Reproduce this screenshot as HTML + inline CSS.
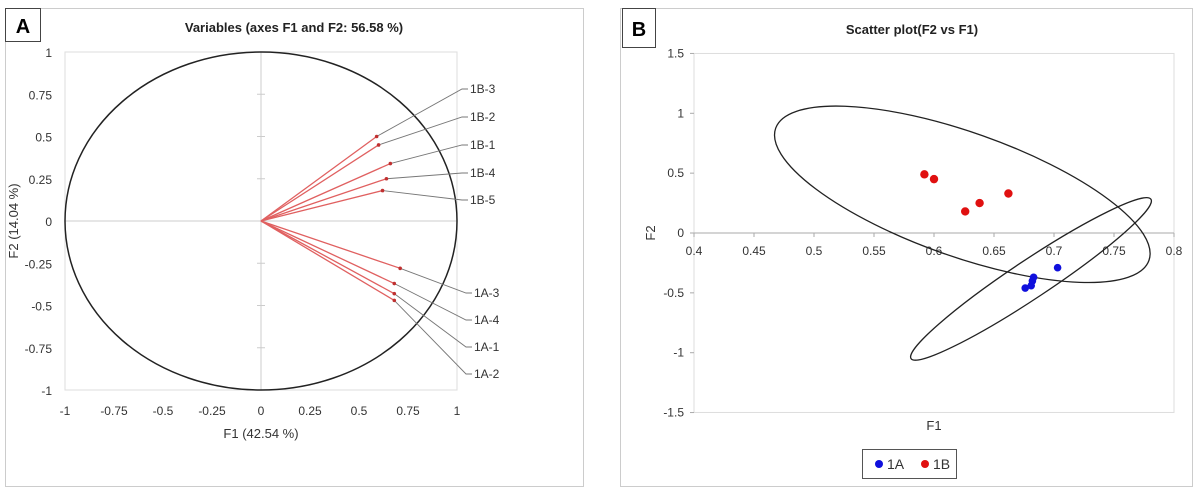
<!DOCTYPE html>
<html><head><meta charset="utf-8"><style>
body{margin:0;background:#fff;width:1201px;height:490px;overflow:hidden}
svg{font-family:"Liberation Sans",Arial,sans-serif}
</style></head><body>
<svg id="s" width="1201" height="490" xmlns="http://www.w3.org/2000/svg"></svg>
<script>
// Panel A data
const varNames=["1B-3","1B-2","1B-1","1B-4","1B-5","1A-3","1A-4","1A-1","1A-2"];
const varF1=[0.59,0.60,0.66,0.64,0.62,0.71,0.68,0.68,0.68];
const varF2=[0.50,0.45,0.34,0.25,0.18,-0.28,-0.37,-0.43,-0.47];
const ticksA=[-1,-0.75,-0.5,-0.25,0,0.25,0.5,0.75,1];
// Panel B data
const f1A=[0.703,0.683,0.682,0.681,0.676];
const f2A=[-0.29,-0.37,-0.40,-0.44,-0.46];
const f1B=[0.592,0.600,0.626,0.638,0.662];
const f2B=[0.49,0.45,0.18,0.25,0.33];
const xTicksB=[0.4,0.45,0.5,0.55,0.6,0.65,0.7,0.75,0.8];
const yTicksB=[1.5,1,0.5,0,-0.5,-1,-1.5];

const S=document.getElementById('s');const NS="http://www.w3.org/2000/svg";
function el(t,a,txt){const e=document.createElementNS(NS,t);for(const k in a)e.setAttribute(k,a[k]);if(txt!=null)e.textContent=txt;S.appendChild(e);return e;}
function fmt(v){return String(v);}

// ---- Panel A ----
let e;
e=el('rect',{x:5.5,y:8.5,width:578,height:478,fill:'none',stroke:'#ccc'});

e=el('rect',{x:5.5,y:8.5,width:35,height:33,fill:'#fff',stroke:'#444'});

e=el('text',{x:23,y:33,'font-size':20,'font-weight':'bold','text-anchor':'middle'},'A');

e=el('text',{x:294,y:32,'font-size':13,'font-weight':'bold','text-anchor':'middle',fill:'#222'},'Variables (axes F1 and F2: 56.58 %)');

const ax=v=>261+v*196, ay=v=>221-v*169;
e=el('rect',{x:ax(-1),y:ay(1),width:392,height:338,fill:'none',stroke:'#ddd'});

e=el('line',{x1:ax(-1),y1:ay(0),x2:ax(1),y2:ay(0),stroke:'#ccc'});

e=el('line',{x1:ax(0),y1:ay(1),x2:ax(0),y2:ay(-1),stroke:'#ccc'});

ticksA.forEach(t=>{
  e=el('text',{x:52,y:ay(t)+5,'font-size':12,'text-anchor':'end',fill:'#333'},fmt(t));
  
  e=el('text',{x:ax(t),y:415,'font-size':12,'text-anchor':'middle',fill:'#333'},fmt(t));
  
  e=el('line',{x1:ax(0)-4,y1:ay(t),x2:ax(0)+4,y2:ay(t),stroke:'#ccc'});
  
});
e=el('ellipse',{cx:ax(0),cy:ay(0),rx:196,ry:169,fill:'none',stroke:'#222','stroke-width':1.5});

e=el('text',{x:261,y:438,'font-size':13,'text-anchor':'middle',fill:'#333'},'F1 (42.54 %)');

e=el('text',{x:0,y:0,'font-size':13,'text-anchor':'middle',fill:'#333',transform:'translate(18,221) rotate(-90)'},'F2 (14.04 %)');

const labY=[89,117,145,173,200,293,320,347,374];
varNames.forEach((n,i)=>{
  const x=ax(varF1[i]),y=ay(varF2[i]);
  const lx=i<5?462:466;
  e=el('polyline',{points:`${x},${y} ${lx},${labY[i]} ${lx+6},${labY[i]}`,fill:'none',stroke:'#777','stroke-width':0.9});
  
  e=el('line',{x1:ax(0),y1:ay(0),x2:x,y2:y,stroke:'#e06060','stroke-width':1.3});
  
  e=el('circle',{cx:x,cy:y,r:1.8,fill:'#c03030'});
  
  e=el('text',{x:lx+8,y:labY[i]+4,'font-size':12,fill:'#333'},n);
  
});

// ---- Panel B ----
e=el('rect',{x:620.5,y:8.5,width:572,height:478,fill:'none',stroke:'#ccc'});

e=el('rect',{x:622.5,y:8.5,width:33,height:39,fill:'#fff',stroke:'#444'});

e=el('text',{x:639,y:36,'font-size':20,'font-weight':'bold','text-anchor':'middle'},'B');

e=el('text',{x:912,y:34,'font-size':13,'font-weight':'bold','text-anchor':'middle',fill:'#222'},'Scatter plot(F2 vs F1)');

const bx=v=>694+(v-0.4)*1200, by=v=>233-v*119.7;
e=el('rect',{x:bx(0.4),y:by(1.5),width:480,height:359,fill:'none',stroke:'#ddd'});

e=el('line',{x1:bx(0.4),y1:by(0),x2:bx(0.8),y2:by(0),stroke:'#aaa'});

xTicksB.forEach(t=>{
  e=el('line',{x1:bx(t),y1:by(0),x2:bx(t),y2:by(0)+4,stroke:'#aaa'});
  
  e=el('text',{x:bx(t),y:255,'font-size':12,'text-anchor':'middle',fill:'#333'},fmt(t));
  
});
yTicksB.forEach(t=>{
  e=el('line',{x1:bx(0.4)-4,y1:by(t),x2:bx(0.4),y2:by(t),stroke:'#aaa'});
  
  e=el('text',{x:684,y:by(t)+4,'font-size':12,'text-anchor':'end',fill:'#333'},fmt(t));
  
});
e=el('text',{x:934,y:430,'font-size':13,'text-anchor':'middle',fill:'#333'},'F1');

e=el('text',{x:0,y:0,'font-size':13,'text-anchor':'middle',fill:'#333',transform:'translate(655,233) rotate(-90)'},'F2');

const mean=a=>a.reduce((s,v)=>s+v,0)/a.length;
e=el('ellipse',{cx:0,cy:0,rx:198,ry:62,fill:'none',stroke:'#222','stroke-width':1.3,transform:`translate(${bx(mean(f1B))},${by(mean(f2B))+2}) rotate(19.5)`});

e=el('ellipse',{cx:0,cy:0,rx:144,ry:19,fill:'none',stroke:'#222','stroke-width':1.3,transform:`translate(${bx(mean(f1A))-5},${by(mean(f2A))-1}) rotate(-33.6)`});

f1A.forEach((v,i)=>{e=el('circle',{cx:bx(v),cy:by(f2A[i]),r:3.8,fill:'#1010dd'});
  });
f1B.forEach((v,i)=>{e=el('circle',{cx:bx(v),cy:by(f2B[i]),r:4.2,fill:'#e01010'});
  });
e=el('rect',{x:862.5,y:449.5,width:94,height:29,fill:'#fff',stroke:'#555'});

e=el('circle',{cx:879,cy:464,r:4,fill:'#1010dd'});

e=el('text',{x:887,y:469,'font-size':14,fill:'#333'},'1A');

e=el('circle',{cx:925,cy:464,r:4,fill:'#e01010'});

e=el('text',{x:933,y:469,'font-size':14,fill:'#333'},'1B');

</script>
</body></html>
